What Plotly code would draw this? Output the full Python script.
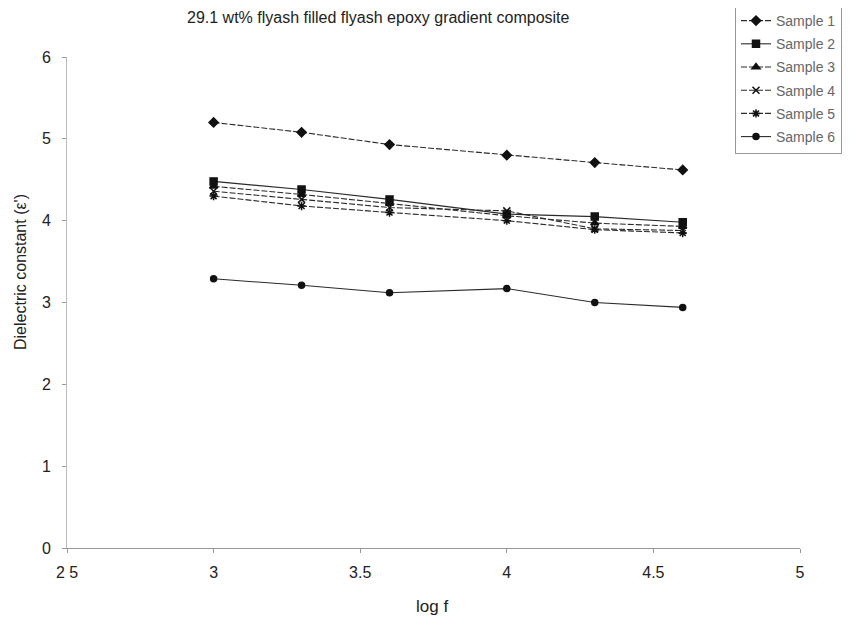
import plotly.graph_objects as go

log_f = [3.0, 3.3, 3.6, 4.0, 4.3, 4.6]
sample1 = [5.20, 5.08, 4.93, 4.80, 4.71, 4.62]
sample2 = [4.48, 4.38, 4.26, 4.08, 4.05, 3.98]
sample3 = [4.42, 4.32, 4.21, 4.06, 3.97, 3.93]
sample4 = [4.36, 4.26, 4.16, 4.12, 3.90, 3.88]
sample5 = [4.30, 4.18, 4.10, 4.00, 3.89, 3.85]
sample6 = [3.29, 3.21, 3.12, 3.17, 3.00, 2.94]
names = ["Sample 1", "Sample 2", "Sample 3", "Sample 4", "Sample 5", "Sample 6"]
series = [sample1, sample2, sample3, sample4, sample5, sample6]
x_ticks = [2.5, 3, 3.5, 4, 4.5, 5]
x_tick_text = ["2 5", "3", "3.5", "4", "4.5", "5"]
y_ticks = [0, 1, 2, 3, 4, 5, 6]

symbols = ["diamond", "square", "triangle-up", "x-thin-open", "asterisk-open", "circle"]
dashes = ["6px,2px", "solid", "6px,2px", "6px,2px", "6px,2px", "solid"]
sizes = [7, 7, 7, 7, 7, 6]

W, H = 858, 622
OFF = 8  # page body offset
x0, x1 = 67 - OFF, 800 - OFF
y_top, y_bot = 57 - OFF, 548 - OFF


def px(x):
    return (x - OFF) / W


def py(y):
    return 1 - (y - OFF) / H


fig = go.Figure()
for i, (name, vals, sym, dash, sz) in enumerate(zip(names, series, symbols, dashes, sizes)):
    fig.add_trace(go.Scatter(
        x=log_f, y=vals, name=name, mode="lines+markers", legendgroup=f"g{i}",
        line=dict(color="#2a2a2a", width=1.1, dash=dash),
        marker=dict(symbol=sym, size=sz, color="#111111",
                    line=dict(color="#111111", width=1.5)),
    ))

fig.update_layout(
    width=W, height=H,
    paper_bgcolor="white", plot_bgcolor="white",
    margin=dict(l=0, r=0, t=0, b=0, autoexpand=False),
    font=dict(family="Liberation Sans, Arial, sans-serif", color="#222222", size=16),
    legend=dict(x=px(735), y=py(4), xref="paper", yref="paper",
                xanchor="left", yanchor="top",
                bordercolor="#999999", borderwidth=1,
                font=dict(size=14, color="#666666"),
                tracegroupgap=2, itemwidth=30),
    showlegend=True,
    annotations=[
        dict(text="29.1 wt% flyash filled flyash epoxy gradient composite",
             x=px(378), y=py(18), xref="paper", yref="paper",
             xanchor="center", yanchor="middle", showarrow=False,
             font=dict(size=16, color="#222222")),
        dict(text="log f", x=px(432), y=py(606), xref="paper", yref="paper",
             xanchor="center", yanchor="middle", showarrow=False,
             font=dict(size=17, color="#222222")),
        dict(text="Dielectric constant (ε')", x=px(20), y=py(272),
             xref="paper", yref="paper", textangle=-90,
             xanchor="center", yanchor="middle", showarrow=False,
             font=dict(size=16, color="#222222")),
    ],
)

fig.update_xaxes(domain=[x0 / W, x1 / W], range=[2.5, 5],
                 tickvals=x_ticks, ticktext=x_tick_text,
                 showgrid=False, zeroline=False, automargin=False,
                 showline=True, linecolor="#999999", linewidth=1,
                 ticks="outside", ticklen=4, tickcolor="#999999",
                 ticklabelstandoff=6, tickfont=dict(size=16))
fig.update_yaxes(domain=[1 - y_bot / H, 1 - y_top / H], range=[0, 6],
                 tickvals=y_ticks,
                 showgrid=False, zeroline=False, automargin=False,
                 showline=True, linecolor="#bbbbbb", linewidth=1,
                 ticks="outside", ticklen=4, tickcolor="#999999",
                 ticklabelstandoff=8, tickfont=dict(size=16))

fig.write_html("out.html")
